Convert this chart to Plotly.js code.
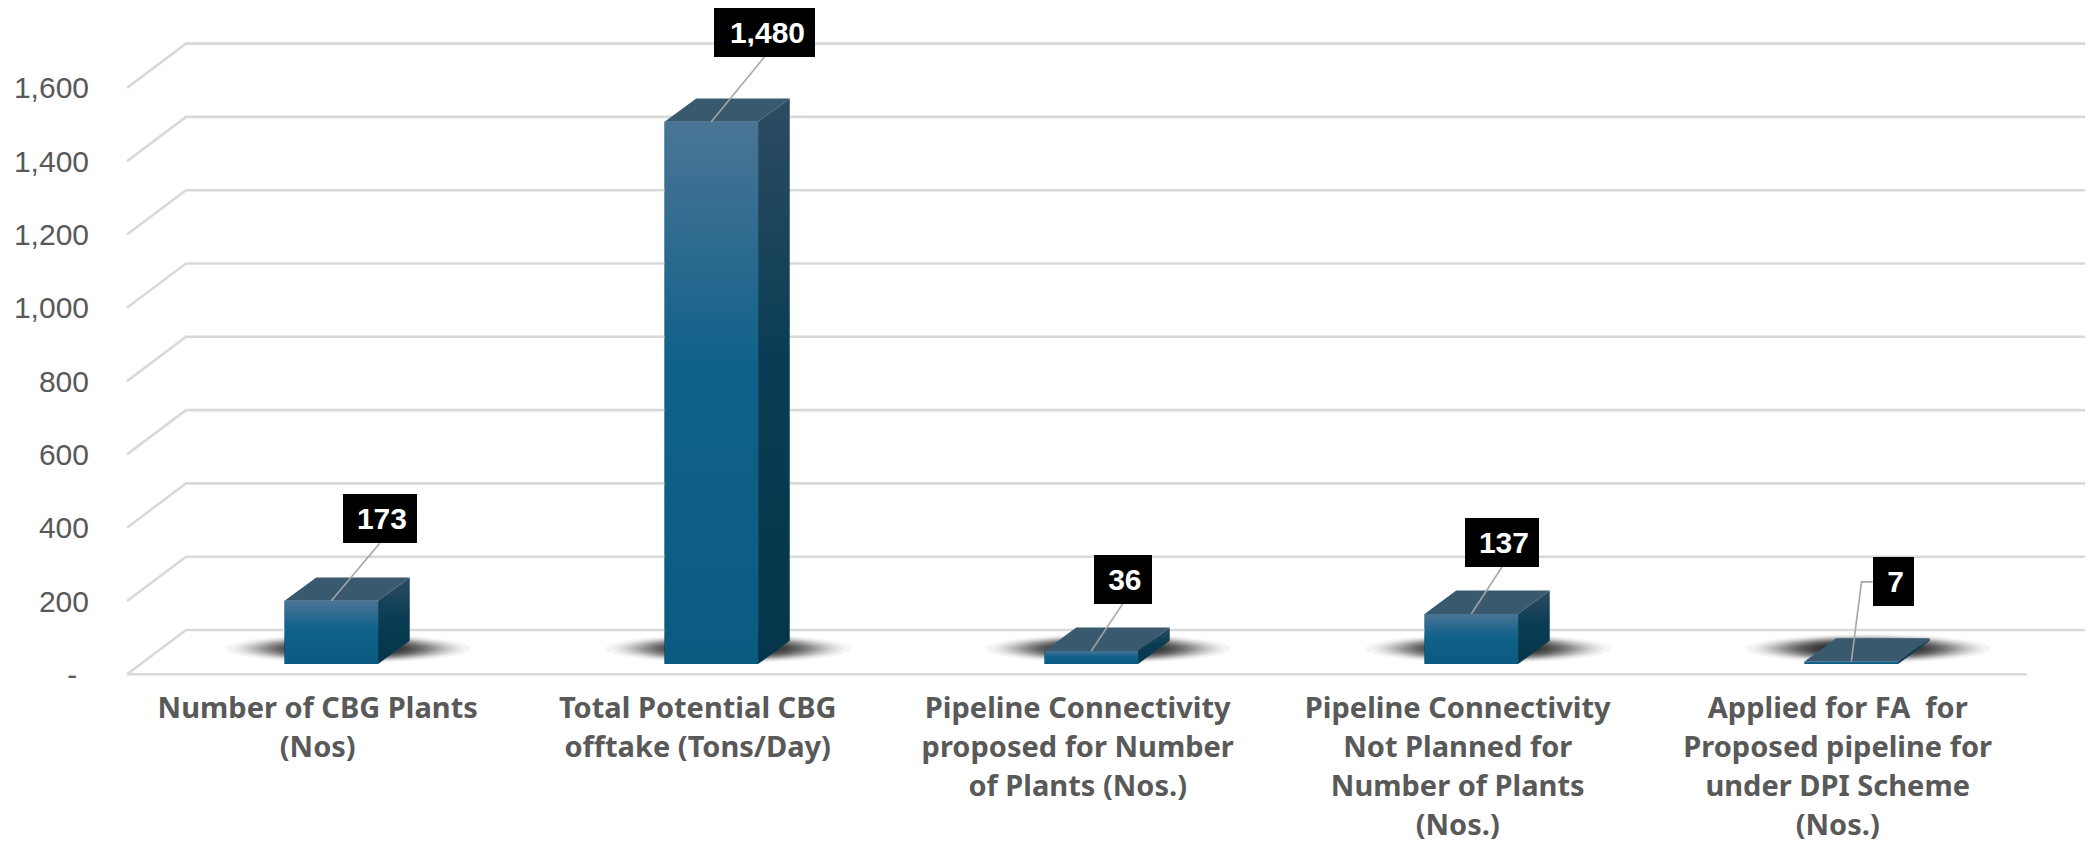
<!DOCTYPE html>
<html>
<head>
<meta charset="utf-8">
<script src="https://cdn.plot.ly/plotly-3.0.1.min.js"></script>
<style>html,body{margin:0;padding:0;background:#fff}</style>
</head>
<body>
<div id="chart" style="width:2093px;height:847px"></div>
<script>
// ---- data ----
const categoryLines = [
  ["Number of CBG Plants", "(Nos)"],
  ["Total Potential CBG", "offtake (Tons/Day)"],
  ["Pipeline Connectivity", "proposed for Number", "of Plants (Nos.)"],
  ["Pipeline Connectivity", "Not Planned for", "Number of Plants", "(Nos.)"],
  ["Applied for FA  for", "Proposed pipeline for", "under DPI Scheme", "(Nos.)"]
];
const values = [173, 1480, 36, 137, 7];
const valueLabels = ["173", "1,480", "36", "137", "7"];
const yTickVals = [0, 200, 400, 600, 800, 1000, 1200, 1400, 1600];
const yTickText = ['-\u00a0<span style="font-size:12px">\u00a0</span>', "200", "400", "600", "800", "1,000", "1,200", "1,400", "1,600"];

// ---- scale of the page -> axis units (only used for decoration offsets) ----
const W = 2093, H = 847, mL = 98, plotBottom = 680;
const pxPerX = 380, x0Px = 317.7, pxPerY = 0.3665, y0Px = 674.3;
const dX = p => p / pxPerX, dY = p => p / pxPerY;
const xRange = [(mL - x0Px) / pxPerX, (W - x0Px) / pxPerX];
const yRange = [(y0Px - plotBottom) / pxPerY, y0Px / pxPerY];

// 3-D projection constants
const wallDX = dX(59), wallDY = dY(44.3);
const planeDX = dX(13.6), planeDY = dY(10.2);
const barW = dX(93.5), barDX = dX(31.7), barDY = dY(23.3);
const gridLeft = dX(127 - x0Px), gridRightBack = dX(2085 - x0Px), gridRightFront = dX(2027 - x0Px);

const traces = [];
const noHover = {hoverinfo: 'skip', showlegend: false};

// gridlines of the back wall and floor
{
  const gx = [], gy = [];
  yTickVals.forEach(v => {
    gx.push(gridLeft, gridLeft + wallDX, gridRightBack, null);
    gy.push(v, v + wallDY, v + wallDY, null);
  });
  gx.push(gridLeft, gridRightFront, null);
  gy.push(0, 0, null);
  traces.push({type: 'scatter', mode: 'lines', x: gx, y: gy, line: {color: '#d9d9d9', width: 2.6}, ...noHover});
}

// bars (front face) through the library's bar trace
traces.push({
  type: 'bar', x: values.map((_, i) => i + planeDX), y: values, base: planeDY, width: barW,
  marker: {color: '#0f6088'}, ...noHover
});

// soft floor shadows: stacked translucent ellipses with a plateau-shaped falloff
const shadowLayers = 40;
for (let k = 1; k <= shadowLayers; k++) {
  const r = 0.65 * Math.cbrt(-Math.log(k / (shadowLayers + 0.5)));
  const rx = 122 * r, ry = 14.5 * r;
  const sx = [], sy = [];
  values.forEach((_, i) => {
    for (let a = 0; a <= 40; a++) {
      const ang = a / 40 * 2 * Math.PI;
      sx.push(i + planeDX + dX(17 + rx * Math.cos(ang)));
      sy.push(planeDY + dY(15.5 + ry * Math.sin(ang)));
    }
    sx.push(null); sy.push(null);
  });
  traces.push({type: 'scatter', mode: 'lines', x: sx, y: sy, fill: 'toself', line: {width: 0},
    fillcolor: 'rgba(0,0,0,0.045)', ...noHover});
}

const frontScale = [[0, '#4a7595'], [0.45, '#10618a'], [1, '#0b5a80']];
const sideScale = [[0, '#2d4c62'], [0.45, '#0a3d55'], [1, '#05354a']];

values.forEach((v, i) => {
  const xl = i + planeDX - barW / 2, xr = xl + barW, yb = planeDY, yt = planeDY + v;
  // right side face
  traces.push({type: 'scatter', mode: 'lines', fill: 'toself', line: {width: 0},
    x: [xr, xr + barDX, xr + barDX, xr, xr], y: [yb, yb + barDY, yt + barDY, yt, yb],
    fillgradient: {type: 'vertical', colorscale: sideScale.map(s => [1 - s[0], s[1]]).reverse()}, ...noHover});
  // top face
  traces.push({type: 'scatter', mode: 'lines', fill: 'toself', line: {width: 0},
    x: [xl, xr, xr + barDX, xl + barDX, xl], y: [yt, yt, yt + barDY, yt + barDY, yt],
    fillcolor: '#39596f', ...noHover});
  // front gradient
  traces.push({type: 'scatter', mode: 'lines', fill: 'toself', line: {width: 0},
    x: [xl, xr, xr, xl, xl], y: [yb, yb, yt, yt, yb],
    fillgradient: {type: 'vertical', colorscale: frontScale.map(s => [1 - s[0], s[1]]).reverse()}, ...noHover});
});

// data-label boxes: offsets from the top-centre of each bar front (px)
const labelBox = [
  {ox: 48.5, oy: 82, w: 74, h: 49},
  {ox: 53.5, oy: 89.5, w: 101, h: 48.5},
  {ox: 31.5, oy: 71.5, w: 57.5, h: 48.5},
  {ox: 30.7, oy: 71.4, w: 74, h: 49},
  {ox: 41.8, oy: 79.7, w: 41, h: 48.5}
];
const annotations = [];
values.forEach((v, i) => {
  const b = labelBox[i];
  const tx = i + planeDX, ty = planeDY + v;
  const cx = tx + dX(b.ox), cy = ty + dY(b.oy);
  const lx = [tx], ly = [ty];
  if (i === 4) {
    lx.push(tx + dX(10.2), cx - dX(b.w / 2)); ly.push(cy, cy);
  } else {
    lx.push(cx); ly.push(cy - dY(b.h / 2));
  }
  traces.push({type: 'scatter', mode: 'lines', x: lx, y: ly, line: {color: '#a6a6a6', width: 1.6}, ...noHover});
  annotations.push({
    x: cx, y: cy, xref: 'x', yref: 'y', text: valueLabels[i], showarrow: false,
    bgcolor: '#000000', borderpad: 10, borderwidth: 0, width: b.w - 20, height: b.h - 20, align: 'right', valign: 'middle',
    font: {family: 'Liberation Sans, Arial, sans-serif', size: 30, color: '#ffffff', weight: 'bold'}
  });
});

const tickText = categoryLines.map(lines =>
  lines.map(l => '<span style="font-size:29px">' + l.replace(/  /g, '\u00a0 ') + '</span>').join('<br>'));

const layout = {
  width: W, height: H,
  margin: {l: mL, r: 0, t: 0, b: H - plotBottom, pad: 0},
  paper_bgcolor: '#ffffff', plot_bgcolor: '#ffffff',
  showlegend: false, hovermode: false,
  xaxis: {
    type: 'linear', range: xRange, fixedrange: true, showgrid: false, zeroline: false, showline: false,
    tickmode: 'array', tickvals: categoryLines.map((_, i) => i), ticktext: tickText, ticks: '', tickangle: 0,
    ticklabelstandoff: 7,
    tickfont: {family: 'Noto Sans, sans-serif', size: 30, color: '#595959', weight: 'bold'}
  },
  yaxis: {
    type: 'linear', range: yRange, fixedrange: true, showgrid: false, zeroline: false, showline: false,
    tickmode: 'array', tickvals: yTickVals, ticktext: yTickText, ticks: '',
    ticklabelstandoff: 8,
    tickfont: {family: 'Liberation Sans, Arial, sans-serif', size: 30, color: '#595959'}
  },
  annotations: annotations
};
Plotly.newPlot('chart', traces, layout, {displayModeBar: false, responsive: false});
</script>
</body>
</html>
